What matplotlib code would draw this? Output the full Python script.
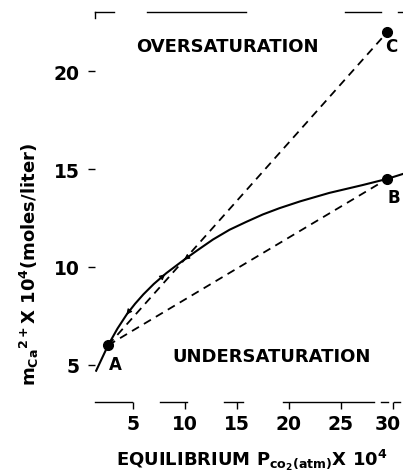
import matplotlib
matplotlib.use("Agg")
import matplotlib.pyplot as plt
import matplotlib.transforms as mtransforms

plt.rcParams['font.family'] = ['DejaVu Sans']
plt.rcParams['font.weight'] = 'bold'
plt.rcParams['mathtext.fontset'] = 'dejavusans'
plt.rcParams['mathtext.default'] = 'bf'

# equilibrium curve
curve_x = [1.45, 2.6, 3.5, 4.4, 5.2, 6.0, 7.0, 8.2, 9.8, 11.2, 12.7, 14.3, 15.9,
           17.5, 19.1, 21.1, 23.9, 27.1, 29.5, 31.0]
curve_y = [4.7, 6.0, 6.85, 7.58, 8.12, 8.6, 9.13, 9.68, 10.32, 10.85, 11.4, 11.9, 12.3,
           12.68, 13.0, 13.35, 13.78, 14.18, 14.5, 14.75]

point_names = ['A', 'B', 'C']
point_x = [2.6, 29.5, 29.5]
point_y = [6.0, 14.5, 22.0]

xticks = [5, 10, 15, 20, 25, 30]
yticks = [5, 10, 15, 20]

fig = plt.figure(figsize=(4.03, 4.77), dpi=100)
ax = fig.add_axes([0.236, 0.155, 0.764, 0.817])
ax.set_xlim(1.35, 31.0)
ax.set_ylim(3.1, 23.0)

ax.plot(curve_x, curve_y, color='black', lw=1.5, solid_joinstyle='round')
# dashed lines A->B, A->C
ax.plot([point_x[0], point_x[1]], [point_y[0], point_y[1]], color='black', lw=1.3, ls=(0, (4.5, 3.2)))
ax.plot([point_x[0], point_x[2]], [point_y[0], point_y[2]], color='black', lw=1.3, ls=(0, (4.5, 3.2)))
ax.plot(point_x, point_y, 'o', color='black', ms=7)

# small arrowheads along the paths
for (x0, y0, x1, y1) in [(10.5, 10.6, 9.7, 10.28), (7.6, 9.4, 8.3, 9.72), (4.9, 7.93, 4.2, 7.45)]:
    ax.annotate('', xy=(x1, y1), xytext=(x0, y0),
                arrowprops=dict(arrowstyle='-|>', color='black', lw=0.8, mutation_scale=8))

# point labels
ax.text(3.3, 5.05, point_names[0], fontsize=12, fontweight='bold', ha='center', va='center')
ax.text(30.1, 13.55, point_names[1], fontsize=12, fontweight='bold', ha='center', va='center')
ax.text(29.9, 21.3, point_names[2], fontsize=12, fontweight='bold', ha='center', va='center')

ax.text(14.1, 21.3, 'OVERSATURATION', fontsize=13, fontweight='bold', ha='center', va='center')
ax.text(18.3, 5.43, 'UNDERSATURATION', fontsize=13, fontweight='bold', ha='center', va='center')

ax.set_xticks(xticks)
ax.set_xticklabels([str(t) for t in xticks])
ax.set_yticks(yticks)
ax.set_yticklabels([str(t) for t in yticks])
ax.tick_params(axis='both', labelsize=13.5, length=5, width=1, direction='out')
ax.tick_params(axis='x', pad=3.5)
ax.tick_params(axis='y', pad=6)
for lbl in ax.get_xticklabels() + ax.get_yticklabels():
    lbl.set_fontweight('bold')
# keep the last x tick label inside the figure
last = ax.get_xticklabels()[-1]
last.set_transform(last.get_transform() + mtransforms.ScaledTranslation(-0.05, 0, fig.dpi_scale_trans))

for s in ['left', 'right', 'top', 'bottom']:
    ax.spines[s].set_visible(False)

# broken frame lines, as in the scanned original
for (a, b) in [(0.0, 0.06), (0.17, 0.49), (0.81, 0.93), (0.985, 1.0)]:
    ax.plot([a, b], [1.0, 1.0], transform=ax.transAxes, color='black', lw=1.0, clip_on=False)
ax.plot([0.0, 0.0], [0.985, 1.0], transform=ax.transAxes, color='black', lw=1.0, clip_on=False)
for (a, b) in [(0.0, 0.12), (0.21, 0.30), (0.42, 0.48), (0.61, 0.905), (0.93, 0.95), (0.97, 0.99)]:
    ax.plot([a, b], [0.0, 0.0], transform=ax.transAxes, color='black', lw=1.0, clip_on=False)

ax.set_xlabel(r'EQUILIBRIUM P$_{\mathbf{co_2(atm)}}$X 10$^{\mathbf{4}}$', fontsize=13, fontweight='bold')
ax.xaxis.set_label_coords(0.51, -0.115)
ax.set_ylabel(r'm$_{\mathbf{Ca}}$$^{\mathbf{2+}}$X 10$^{\mathbf{4}}$(moles/liter)', fontsize=13, fontweight='bold')
ax.yaxis.set_label_coords(-0.175, 0.355)

fig.savefig('out.png', dpi=100)
